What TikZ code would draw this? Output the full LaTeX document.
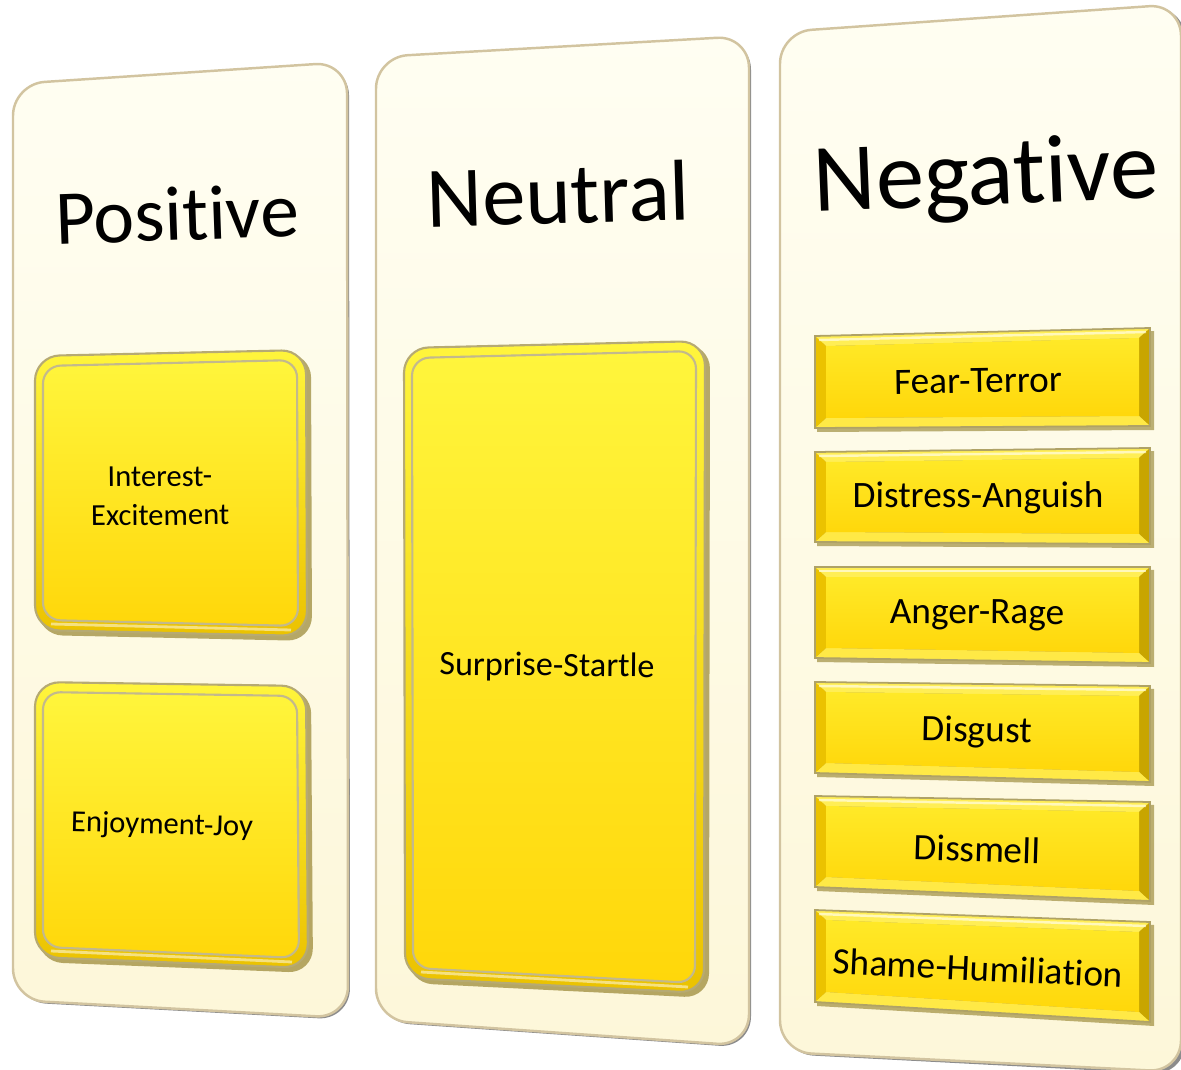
\documentclass[tikz,border=0pt]{standalone}
\usepackage{fontspec}
\setmainfont{Carlito}[Ligatures=NoCommon]
\usetikzlibrary{calc}

\definecolor{creamtop}{HTML}{FFFEF2}
\definecolor{creambot}{HTML}{FDF7D9}
\definecolor{creamedge}{HTML}{D2C4A0}
\definecolor{goldtop}{HTML}{FFF53C}
\definecolor{goldbot}{HTML}{FFD70A}
\definecolor{goldrim}{HTML}{EBC200}
\definecolor{golddark}{HTML}{7A6400}
\definecolor{goldlight}{HTML}{FFEE55}

\tikzset{
  panel/.style={rounded corners=9pt, top color=creamtop, bottom color=creambot, draw=creamedge, line width=0.7pt},
  paneltitle/.style={inner sep=0pt},
  boxlabel/.style={font=\fontsize{10.6}{13}\selectfont, inner sep=0pt, align=center},
}

% rounded gold slab, corners TL TR BR BL
\newcommand\goldslab[4]{%
  \fill[golddark, opacity=0.55, rounded corners=7pt] ($(#1)+(3,3)$) -- ($(#2)+(5,3)$) -- ($(#3)+(5,5)$) -- ($(#4)+(3,5)$) -- cycle;
  \shade[rounded corners=7pt, top color=goldtop, bottom color=goldrim, draw=golddark!55, line width=0.6pt] (#1) -- (#2) -- (#3) -- (#4) -- cycle;
  \shade[rounded corners=5pt, top color=goldtop, bottom color=goldbot, draw=golddark!45, line width=0.6pt] ($(#1)+(8,10)$) -- ($(#2)+(-9,10)$) -- ($(#3)+(-9,-10)$) -- ($(#4)+(8,-10)$) -- cycle;
  \draw[white, opacity=0.5, line width=0.8pt] ($(#4)+(16,-6)$) -- ($(#3)+(-16,-6)$);
}

% bevelled gold bar, corners TL TR BR BL
\newcommand\goldbevel[4]{%
  \fill[golddark, opacity=0.5] ($(#1)+(2,3)$) -- ($(#2)+(4,3)$) -- ($(#3)+(4,4)$) -- ($(#4)+(2,4)$) -- cycle;
  \fill[goldlight] (#1) -- (#2) -- ($(#2)+(-11,10)$) -- ($(#1)+(11,10)$) -- cycle;
  \fill[goldrim!85!black] (#2) -- (#3) -- ($(#3)+(-11,-10)$) -- ($(#2)+(-11,10)$) -- cycle;
  \fill[goldlight!80!goldbot] (#3) -- (#4) -- ($(#4)+(11,-10)$) -- ($(#3)+(-11,-10)$) -- cycle;
  \fill[goldrim] (#4) -- (#1) -- ($(#1)+(11,10)$) -- ($(#4)+(11,-10)$) -- cycle;
  \shade[top color=goldtop!60!goldbot, bottom color=goldbot] ($(#1)+(11,10)$) -- ($(#2)+(-11,10)$) -- ($(#3)+(-11,-10)$) -- ($(#4)+(11,-10)$) -- cycle;
  \draw[white, opacity=0.6, line width=0.7pt] ($(#1)+(4,4)$) -- ($(#2)+(-4,4)$);
  \draw[golddark!60, line width=0.5pt] (#1) -- (#2) -- (#3) -- (#4) -- cycle;
}

\begin{document}
\begin{tikzpicture}[x=0.01cm, y=-0.01cm]

\useasboundingbox (0,0) rectangle (1181,1070);

% Paneles
\fill[black!45, rounded corners=9pt] (15,86) -- (349,64) -- (350,1020) -- (15,1002) -- cycle;
\shade[panel] (13,84) -- (347,62) -- (348,1018) -- (13,1000) -- cycle;

\fill[black!45, rounded corners=9pt] (378,59) -- (751,38) -- (751,1048) -- (378,1022) -- cycle;
\shade[panel] (376,57) -- (749,36) -- (749,1046) -- (376,1020) -- cycle;

\fill[black!45, rounded corners=9pt] (782,34) -- (1185,6) -- (1185,1075) -- (782,1054) -- cycle;
\shade[panel] (780,32) -- (1181,4) -- (1181,1072) -- (780,1052) -- cycle;

% Cajas doradas
\goldslab{35,356}{306,350}{307,636}{35,630}
\goldslab{35,682}{306,686}{308,968}{35,957}
\goldslab{404,348}{705,341}{704,993}{405,978}

\goldbevel{815,336}{1150,328}{1150,426}{815,428}
\goldbevel{815,452}{1150,448}{1150,544}{815,542}
\goldbevel{815,567}{1150,567}{1150,663}{815,658}
\goldbevel{815,682}{1150,686}{1150,782}{815,773}
\goldbevel{815,796}{1150,802}{1150,901}{815,887}
\goldbevel{815,910}{1150,922}{1150,1022}{815,1002}

% Titulos
\node[paneltitle, font=\fontsize{22}{26}\selectfont, rotate=2] (pos) at (177,214) {Positive};
\node[paneltitle, font=\fontsize{24.6}{29}\selectfont, rotate=1.7] (neu) at (558,194) {Neutral};
\node[paneltitle, font=\fontsize{27.5}{32}\selectfont, rotate=2.3] (neg) at (986,180) {Negative};

% Etiquetas
\node[boxlabel, font=\fontsize{8.7}{11}\selectfont, rotate=0.5] (interest) at (160,496) {Interest-\\Excitement};
\node[boxlabel, font=\fontsize{8.7}{11}\selectfont, rotate=-1.5] (enjoy) at (162,826) {Enjoyment-Joy};
\node[boxlabel, font=\fontsize{9.7}{12}\selectfont, rotate=-0.6] (surprise) at (547,667) {Surprise-Startle};

\node[boxlabel, rotate=0.9] (fear) at (978,381) {Fear-Terror};
\node[boxlabel, rotate=0] (distress) at (978,498) {Distress-Anguish};
\node[boxlabel, rotate=-0.4] (anger) at (977,615) {Anger-Rage};
\node[boxlabel, rotate=-1.1] (disgust) at (977,732) {Disgust};
\node[boxlabel, rotate=-1.7] (dissmell) at (977,849) {Dissmell};
\node[boxlabel, rotate=-2.7] (shame) at (978,968) {Shame-Humiliation};

\end{tikzpicture}
\end{document}
